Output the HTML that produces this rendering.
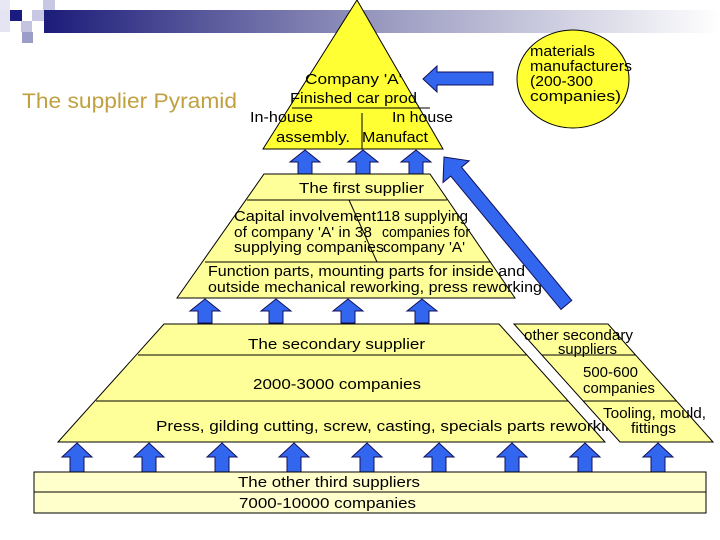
<!DOCTYPE html>
<html><head><meta charset="utf-8"><style>
html,body{margin:0;padding:0;background:#fff;}
svg{display:block;}
text{font-family:"Liberation Sans",Arial,sans-serif;font-size:15px;fill:#000;}
</style></head><body>
<svg width="720" height="540" viewBox="0 0 720 540" xmlns="http://www.w3.org/2000/svg">
<defs>
<linearGradient id="g" x1="0" x2="1" y1="0" y2="0">
<stop offset="0" stop-color="#1c1c7a"/><stop offset="0.5" stop-color="#9a9ac0"/><stop offset="1" stop-color="#ffffff"/>
</linearGradient>
<g id="ua"><polygon points="0,0 15,12 7,12 7,24 -7,24 -7,12 -15,12" fill="#3366ee" stroke="#10105a" stroke-width="1"/></g>
<g id="ub"><polygon points="0,0 15,14 7,14 7,29 -7,29 -7,14 -15,14" fill="#3366ee" stroke="#10105a" stroke-width="1"/></g>
</defs>
<rect x="44" y="10" width="676" height="23" fill="url(#g)"/>
<rect x="0" y="0" width="10" height="10" fill="#e8e8f4"/>
<rect x="43" y="0" width="12" height="10" fill="#c8c8e4"/>
<rect x="32" y="10" width="12" height="11" fill="#c8c8e4"/>
<rect x="0" y="10" width="10" height="22" fill="#e4e4f2"/>
<rect x="10" y="10" width="12" height="11" fill="#1a1a80"/>
<rect x="21" y="21" width="11" height="11" fill="#c4c4e0"/>
<rect x="22" y="32" width="11" height="11" fill="#9c9cc8"/>
<text x="22" y="108" style="font-size:21px;fill:#c0a040" textLength="215" lengthAdjust="spacingAndGlyphs">The supplier Pyramid</text>

<polygon points="357,0 443,149 263,149" fill="#ffff33" stroke="#000" stroke-width="1"/>
<line x1="292" y1="108" x2="430" y2="108" stroke="#000"/>
<line x1="362" y1="113" x2="362" y2="149" stroke="#000"/>
<text x="305" y="84" textLength="97" lengthAdjust="spacingAndGlyphs">Company 'A'</text>
<text x="290" y="103" textLength="127" lengthAdjust="spacingAndGlyphs">Finished car prod</text>
<text x="250" y="122" textLength="63" lengthAdjust="spacingAndGlyphs">In-house</text>
<text x="392" y="122" textLength="61" lengthAdjust="spacingAndGlyphs">In house</text>
<text x="276" y="142" textLength="74" lengthAdjust="spacingAndGlyphs">assembly.</text>
<text x="362" y="142" textLength="66" lengthAdjust="spacingAndGlyphs">Manufact</text>

<ellipse cx="573" cy="79" rx="56" ry="49" fill="#ffff33" stroke="#000"/>
<text x="530" y="56" textLength="65" lengthAdjust="spacingAndGlyphs">materials</text>
<text x="530" y="71" textLength="102" lengthAdjust="spacingAndGlyphs">manufacturers</text>
<text x="530" y="86" textLength="63" lengthAdjust="spacingAndGlyphs">(200-300</text>
<text x="530" y="101" textLength="91" lengthAdjust="spacingAndGlyphs">companies)</text>
<polygon points="423,79 437,66 437,72 493,72 493,85 437,85 437,92" fill="#3366ee" stroke="#10105a"/>

<use href="#ua" x="305" y="150"/><use href="#ua" x="363" y="150"/><use href="#ua" x="416" y="150"/>

<polygon points="264,174 430,174 515,298 177,298" fill="#ffff99" stroke="#000"/>
<line x1="247" y1="200" x2="447" y2="200" stroke="#000"/>
<line x1="205" y1="262" x2="490" y2="262" stroke="#000"/>
<line x1="349" y1="200" x2="377" y2="262" stroke="#000"/>
<text x="299" y="193" textLength="125" lengthAdjust="spacingAndGlyphs">The first supplier</text>
<text x="234" y="221" textLength="142" lengthAdjust="spacingAndGlyphs">Capital involvement</text>
<text x="234" y="237" textLength="138" lengthAdjust="spacingAndGlyphs">of company 'A' in 38</text>
<text x="234" y="252" textLength="150" lengthAdjust="spacingAndGlyphs">supplying companies</text>
<text x="376" y="221" textLength="92" lengthAdjust="spacingAndGlyphs">118 supplying</text>
<text x="382" y="237" textLength="88" lengthAdjust="spacingAndGlyphs">companies for</text>
<text x="383" y="252" textLength="82" lengthAdjust="spacingAndGlyphs">company 'A'</text>
<text x="208" y="276" textLength="317" lengthAdjust="spacingAndGlyphs">Function parts, mounting parts for inside and</text>
<text x="208" y="292" textLength="334" lengthAdjust="spacingAndGlyphs">outside mechanical reworking, press reworking</text>

<g transform="translate(444,157) rotate(-39.6)">
<polygon points="0,0 17,19 7,19 7,192 -7,192 -7,19 -17,19" fill="#3366ee" stroke="#10105a"/>
</g>

<use href="#ua" x="205" y="299"/><use href="#ua" x="276" y="299"/><use href="#ua" x="348" y="299"/><use href="#ua" x="422" y="299"/>

<polygon points="164,324 499,324 605,442 58,442" fill="#ffff99" stroke="#000"/>
<line x1="138" y1="355" x2="527" y2="355" stroke="#000"/>
<line x1="96" y1="401" x2="568" y2="401" stroke="#000"/>
<text x="248" y="349" textLength="177" lengthAdjust="spacingAndGlyphs">The secondary supplier</text>
<text x="253" y="389" textLength="168" lengthAdjust="spacingAndGlyphs">2000-3000 companies</text>
<svg x="0" y="400" width="608" height="40" overflow="hidden"><text x="156" y="31" textLength="468" lengthAdjust="spacingAndGlyphs">Press, gilding cutting, screw, casting, specials parts reworking</text></svg>
<polygon points="514,324 608,324 713,442 620,442" fill="#ffff99" stroke="#000"/>
<line x1="542" y1="355" x2="636" y2="355" stroke="#000"/>
<line x1="583" y1="401" x2="677" y2="401" stroke="#000"/>
<text x="524" y="340" textLength="109" lengthAdjust="spacingAndGlyphs">other secondary</text>
<text x="558" y="354" textLength="59" lengthAdjust="spacingAndGlyphs">suppliers</text>
<text x="583" y="377" textLength="55" lengthAdjust="spacingAndGlyphs">500-600</text>
<text x="583" y="393" textLength="72" lengthAdjust="spacingAndGlyphs">companies</text>
<text x="603" y="418" textLength="103" lengthAdjust="spacingAndGlyphs">Tooling, mould,</text>
<text x="631" y="433" textLength="45" lengthAdjust="spacingAndGlyphs">fittings</text>

<use href="#ub" x="77" y="443"/><use href="#ub" x="149" y="443"/><use href="#ub" x="222" y="443"/><use href="#ub" x="294" y="443"/><use href="#ub" x="367" y="443"/><use href="#ub" x="439" y="443"/><use href="#ub" x="512" y="443"/><use href="#ub" x="585" y="443"/><use href="#ub" x="658" y="443"/>

<rect x="34" y="472" width="672" height="41" fill="#ffffcc" stroke="#000"/>
<line x1="34" y1="492" x2="706" y2="492" stroke="#000"/>
<text x="238" y="487" textLength="182" lengthAdjust="spacingAndGlyphs">The other third suppliers</text>
<text x="239" y="508" textLength="177" lengthAdjust="spacingAndGlyphs">7000-10000 companies</text>
</svg>
</body></html>
